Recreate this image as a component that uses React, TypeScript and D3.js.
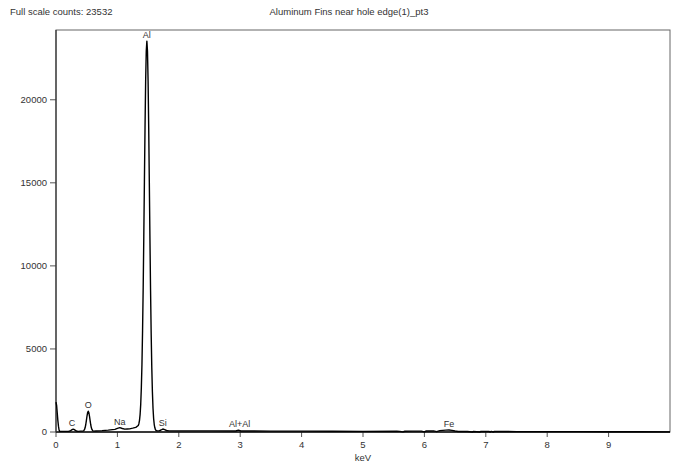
import React from "react";
import * as d3 from "d3";

// spectrum: energy (keV) and counts
const energy = [
  0.0, 0.01, 0.02, 0.03, 0.04, 0.05, 0.06, 0.1, 0.15, 0.2,
  0.23, 0.25, 0.27, 0.28, 0.29, 0.31, 0.33, 0.36, 0.4,
  0.435, 0.445, 0.455, 0.465, 0.475, 0.485, 0.495, 0.505, 0.515, 0.525,
  0.535, 0.545, 0.555, 0.565, 0.575, 0.585, 0.595, 0.605, 0.615,
  0.65, 0.75, 0.85, 0.92, 0.96, 1.0, 1.04, 1.08, 1.12, 1.16, 1.2, 1.25, 1.3,
  1.34, 1.35, 1.36, 1.37, 1.38, 1.39, 1.4, 1.41, 1.42, 1.43, 1.44, 1.45, 1.46, 1.47, 1.48,
  1.49, 1.5, 1.51, 1.52, 1.53, 1.54, 1.55, 1.56, 1.57, 1.58, 1.59, 1.6, 1.61, 1.62, 1.63, 1.65,
  1.68, 1.71, 1.74, 1.77, 1.8, 1.84, 2.0, 2.5, 2.93, 2.97, 3.01, 3.5, 4.0, 4.5, 5.0,
  5.55, 5.6, 5.65, 5.68, 5.8, 5.95, 6.0, 6.03, 6.15, 6.2, 6.25, 6.35, 6.4, 6.45, 6.5, 6.55,
  6.7, 6.78, 6.8, 6.9, 6.92, 7.05, 7.07, 7.09, 7.12, 7.14, 7.5, 8.0, 8.5, 9.0, 9.5, 10.0,
];
const counts = [
  1800, 1600, 1150, 700, 350, 120, 40, 35, 35, 40,
  60, 110, 160, 170, 160, 110, 60, 40, 50,
  55, 65, 92, 152, 266, 451, 697, 962, 1171, 1250,
  1171, 962, 697, 451, 266, 152, 92, 65, 55,
  60, 80, 110, 140, 160, 220, 260, 210, 170, 180, 190, 230, 280,
  390, 500, 700, 1060, 1680, 2670, 4080, 6120, 8680, 11780, 15100, 18330, 21120, 22920, 23532,
  22920, 21100, 18300, 15000, 11650, 8540, 5930, 3890, 2420, 1430, 810, 450, 250, 140, 90, 70,
  70, 120, 180, 140, 90, 70, 70, 65, 60, 110, 60, 55, 50, 45, 40,
  45, 40, 10, 45, 50, 55, 10, 60, 70, 20, 80, 110, 120, 100, 60, 30,
  30, 0, 30, 0, 30, 35, 0, 35, 0, 30, 25, 20, 20, 15, 15, 10,
];

const yTicks = [0, 5000, 10000, 15000, 20000];
const xTicks = [0, 1, 2, 3, 4, 5, 6, 7, 8, 9];

const peakNames = ["Al", "C", "O", "Na", "Si", "Al+Al", "Fe"];
const peakKeV = [1.48, 0.26, 0.525, 1.04, 1.74, 2.99, 6.4];
const peakCounts = [23532, 170, 1250, 260, 180, 110, 120];

const fullScale = 23532;
const title = "Aluminum Fins near hole edge(1)_pt3";

export default function App() {
  const width = 674, height = 464;
  const m = { left: 56, right: 4, top: 30, bottom: 32 };

  const x = d3.scaleLinear().domain([0, 10]).range([m.left, width - m.right]);
  const y = d3.scaleLinear().domain([0, 24200]).range([height - m.bottom, m.top]);

  const line = d3
    .line<number>()
    .x((_, i) => x(energy[i]))
    .y((d) => y(d));

  const font = "'Liberation Sans', Arial, sans-serif";
  const y0 = y(0);

  return (
    <svg
      width={width}
      height={height}
      style={{ position: "absolute", left: 0, top: 0, background: "#fff" }}
      fontFamily={font}
    >
      <text x={10} y={15} fontSize={9.5} fill="#333">
        Full scale counts: {fullScale}
      </text>
      <text x={349} y={15} fontSize={9.5} fill="#333" textAnchor="middle">
        {title}
      </text>

      <rect
        x={m.left}
        y={m.top}
        width={width - m.left - m.right}
        height={y0 - m.top}
        fill="none"
        stroke="#666"
        strokeWidth={1}
      />

      {yTicks.map((t) => (
        <g key={t}>
          <line x1={m.left - 6} x2={m.left} y1={y(t)} y2={y(t)} stroke="#555" />
          <text
            x={m.left - 9}
            y={y(t)}
            dy="0.35em"
            fontSize={9.5}
            fill="#333"
            textAnchor="end"
          >
            {t}
          </text>
        </g>
      ))}

      {xTicks.map((t) => (
        <g key={t}>
          <line x1={x(t)} x2={x(t)} y1={y0} y2={y0 + 5} stroke="#555" />
          <text x={x(t)} y={y0 + 16} fontSize={9.5} fill="#333" textAnchor="middle">
            {t}
          </text>
        </g>
      ))}
      <text x={x(5)} y={y0 + 29} fontSize={9.5} fill="#333" textAnchor="middle">
        keV
      </text>

      <line x1={m.left} x2={width - m.right} y1={y0} y2={y0} stroke="#111" strokeWidth={1.5} />
      <line x1={m.left} x2={m.left} y1={m.top} y2={y0} stroke="#333" strokeWidth={1.2} />

      <path d={line(counts) ?? ""} fill="none" stroke="#000" strokeWidth={1.4} strokeLinejoin="round" />

      {peakNames.map((n, i) => (
        <text
          key={n}
          x={x(peakKeV[i])}
          y={y(peakCounts[i]) - 3}
          fontSize={9}
          fill="#333"
          textAnchor="middle"
        >
          {n}
        </text>
      ))}
    </svg>
  );
}
